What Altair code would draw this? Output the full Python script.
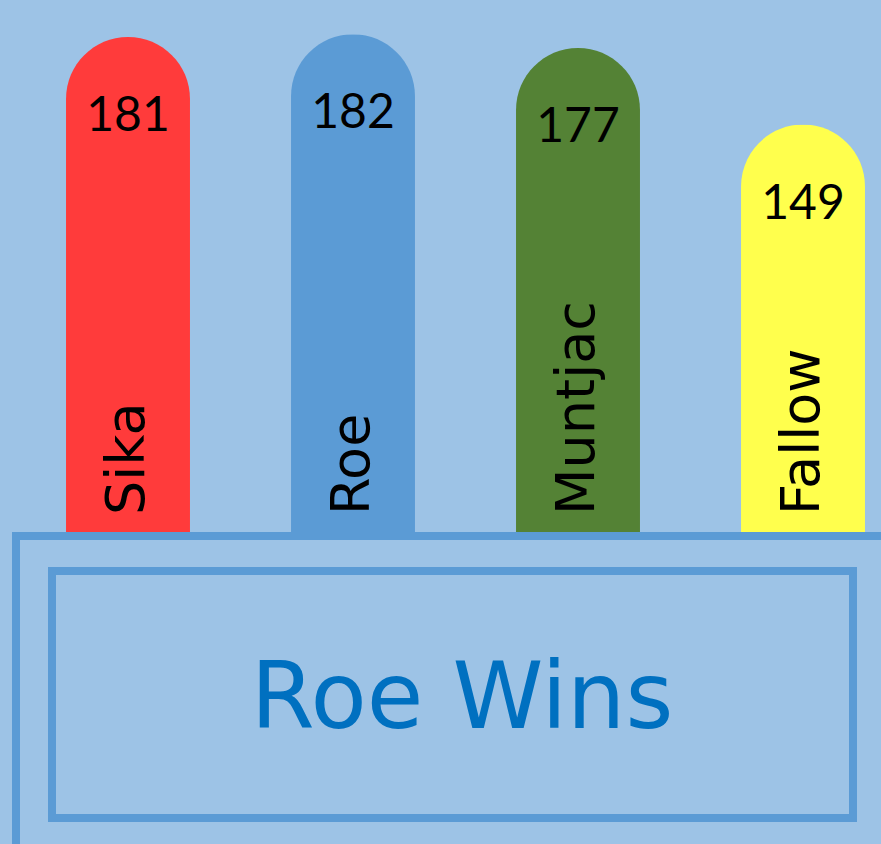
import altair as alt
import pandas as pd

categories = ["Sika", "Roe", "Muntjac", "Fallow"]
values = [181, 182, 177, 149]
colors = ["#ff3b3b", "#5b9bd5", "#548235", "#ffff4d"]

df = pd.DataFrame({"deer": categories, "count": values, "color": colors})
winner = categories[values.index(max(values))]
title_text = f"{winner} Wins"

BG = "#9dc3e6"
FRAME = "#5b9bd5"

x = alt.X("deer:N", sort=categories, axis=None,
          scale=alt.Scale(range=[15.5, 915.5], paddingInner=0.449, paddingOuter=0.2245))
y = alt.Y("count:Q", axis=None,
          scale=alt.Scale(domain=[0, 190], range=[532, 12.5], nice=False, zero=True))

base = alt.Chart(df)
bars = base.mark_bar(cornerRadiusTopLeft=62, cornerRadiusTopRight=62).encode(
    x=x, y=y, color=alt.Color("color:N", scale=None, legend=None)
)
vals = base.mark_text(font="Lato", fontSize=48, baseline="middle", dy=80, color="black").encode(
    x=x, y=y, text="count:Q"
)
names = base.mark_text(font="DejaVu Sans", fontSize=54, angle=270, align="left",
                       baseline="middle", dx=17, color="black").encode(
    x=x, y=alt.datum(0), text="deer:N"
)

box_df = pd.DataFrame({"t": [title_text]})
outer = alt.Chart(box_df).mark_rect(fill=BG, stroke=FRAME, strokeWidth=8).encode(
    x=alt.value(16), x2=alt.value(905), y=alt.value(536), y2=alt.value(880)
)
inner = alt.Chart(box_df).mark_rect(fill=BG, stroke=FRAME, strokeWidth=8).encode(
    x=alt.value(52), x2=alt.value(853), y=alt.value(571), y2=alt.value(818)
)
title = alt.Chart(box_df).mark_text(font="DejaVu Sans", fontSize=92, color="#0070c0",
                                    baseline="middle", align="center").encode(
    x=alt.value(462), y=alt.value(700), text="t:N"
)

chart = alt.layer(bars, vals, names, outer, inner, title).properties(
    width=881, height=844, background=BG, padding=0, autosize="none"
).configure_view(stroke=None)

chart.save("out.html", embed_options={"renderer": "svg", "actions": False})
